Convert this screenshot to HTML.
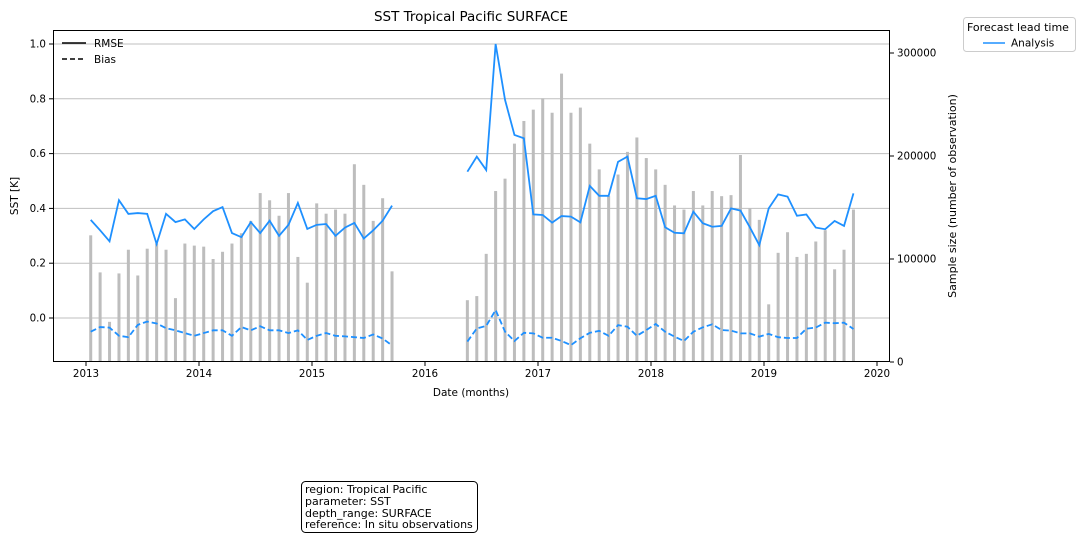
<!DOCTYPE html>
<html><head><meta charset="utf-8"><style>
body{margin:0;background:#fff;width:1084px;height:540px;overflow:hidden;font-family:"Liberation Sans","DejaVu Sans",sans-serif;}
</style></head><body>
<svg id="c" width="1084" height="540" xmlns="http://www.w3.org/2000/svg" font-family="DejaVu Sans, Liberation Sans, sans-serif">
<text x="471" y="21" font-size="13.5" text-anchor="middle">SST Tropical Pacific SURFACE</text>
<g id="grid"></g><g id="bars"></g><g id="lines"></g><g id="axes"></g>
<text x="471" y="396" font-size="10.5" text-anchor="middle">Date (months)</text>
<text transform="translate(18,196) rotate(-90)" font-size="10.5" text-anchor="middle">SST [K]</text>
<text transform="translate(956,196) rotate(-90)" font-size="11" text-anchor="middle">Sample size (number of observation)</text>
<g>
<line x1="62" y1="43" x2="86" y2="43" stroke="#000" stroke-width="1.5"/><text x="94" y="47" font-size="10.5">RMSE</text>
<line x1="62" y1="59" x2="86" y2="59" stroke="#000" stroke-width="1.5" stroke-dasharray="5,3"/><text x="94" y="63" font-size="10.5">Bias</text>
</g>
<g>
<rect x="963.5" y="17.5" width="112" height="34" rx="3" fill="#fff" stroke="#ccc"/>
<text x="967" y="31" font-size="11">Forecast lead time</text>
<line x1="983" y1="43" x2="1005" y2="43" stroke="#1e90ff" stroke-width="1.5"/><text x="1011" y="46.5" font-size="10.5">Analysis</text>
</g>
<g>
<rect x="301.5" y="481.5" width="176" height="51" rx="4" fill="#fff" stroke="#000"/>
<text font-size="11"><tspan x="305" y="493">region: Tropical Pacific</tspan><tspan x="305" y="505">parameter: SST</tspan><tspan x="305" y="517">depth_range: SURFACE</tspan><tspan x="305" y="528">reference: In situ observations</tspan></text>
</g>
</svg>
<script>
const seg1Start=[2013,1];
const seg1Rmse=[0.358,0.32,0.28,0.43,0.38,0.383,0.38,0.27,0.38,0.35,0.36,0.325,0.36,0.39,0.405,0.31,0.295,0.35,0.31,0.355,0.30,0.34,0.42,0.325,0.34,0.343,0.30,0.33,0.347,0.29,0.32,0.355,0.41];
const seg1Bias=[-0.05,-0.033,-0.035,-0.065,-0.07,-0.025,-0.013,-0.02,-0.037,-0.045,-0.055,-0.065,-0.055,-0.045,-0.045,-0.065,-0.033,-0.045,-0.03,-0.045,-0.045,-0.055,-0.045,-0.08,-0.065,-0.055,-0.065,-0.067,-0.07,-0.073,-0.06,-0.075,-0.10];
const seg1Samples=[123000,87000,39000,86000,109000,84000,110000,115000,109000,62000,115000,113000,112000,100000,107000,115000,125000,137000,164000,157000,142000,164000,102000,77000,154000,144000,148000,144000,192000,172000,137000,159000,88000];
const seg2Start=[2016,5];
const seg2Rmse=[0.534,0.589,0.54,1.0,0.796,0.668,0.656,0.378,0.376,0.348,0.372,0.370,0.349,0.482,0.446,0.446,0.570,0.589,0.437,0.434,0.446,0.331,0.311,0.309,0.388,0.346,0.333,0.336,0.400,0.392,0.331,0.266,0.400,0.451,0.443,0.373,0.378,0.330,0.324,0.354,0.336,0.455];
const seg2Bias=[-0.086,-0.038,-0.029,0.029,-0.05,-0.084,-0.054,-0.056,-0.072,-0.072,-0.084,-0.099,-0.074,-0.054,-0.047,-0.065,-0.026,-0.032,-0.065,-0.044,-0.022,-0.05,-0.068,-0.084,-0.05,-0.034,-0.023,-0.044,-0.046,-0.056,-0.056,-0.068,-0.058,-0.07,-0.073,-0.073,-0.039,-0.035,-0.017,-0.019,-0.017,-0.04];
const seg2Samples=[60000,64000,105000,166000,178000,212000,234000,245000,256000,242000,280000,242000,247000,212000,187000,161000,182000,204000,218000,198000,187000,172000,152000,148000,166000,152000,166000,161000,162000,201000,149000,138000,56000,106000,126000,102000,105000,117000,128000,90000,109000,148000];
const xTicks=[2013,2014,2015,2016,2017,2018,2019,2020];
const yTicks=[0.0,0.2,0.4,0.6,0.8,1.0];
const y2Ticks=[0,100000,200000,300000];

const L=53,R=890,T=30,B=362;
const NS='http://www.w3.org/2000/svg';
function xs(yr){return 86+(yr-2013)*113;}
function xm(y,m){return xs(y+(m-0.5)/12);}
function ys(v){return 318-v*274;}
function y2(v){return 362-v/100000*103;}
function mk(tag,attrs,parent){const e=document.createElementNS(NS,tag);for(const k in attrs)e.setAttribute(k,attrs[k]);parent.appendChild(e);return e;}
const grid=document.getElementById('grid'),bars=document.getElementById('bars'),lines=document.getElementById('lines'),axes=document.getElementById('axes');
yTicks.forEach(v=>{const g=mk('line',{x1:L,x2:R,y1:ys(v),y2:ys(v),stroke:'#bfbfbf','stroke-width':1},grid);

});
function series(start,rmse,bias,samp,id){
  const pts=i=>{let m=start[1]-1+i;return xm(start[0]+Math.floor(m/12),m%12+1);};
  samp.forEach((s,i)=>{const b=mk('rect',{x:pts(i)-1.5,y:y2(s),width:3,height:362-y2(s),fill:'#bdbdbd'},bars);
  
  });
  const r=mk('polyline',{points:rmse.map((v,i)=>pts(i)+','+ys(v)).join(' '),fill:'none',stroke:'#1e90ff','stroke-width':1.8},lines);
  
  
  const d=mk('polyline',{points:bias.map((v,i)=>pts(i)+','+ys(v)).join(' '),fill:'none',stroke:'#1e90ff','stroke-width':1.8,'stroke-dasharray':'6,3'},lines);
  
  
}
series(seg1Start,seg1Rmse,seg1Bias,seg1Samples,'2013-2015');
series(seg2Start,seg2Rmse,seg2Bias,seg2Samples,'2016-2019');
const fr=mk('rect',{x:L+0.5,y:T+0.5,width:R-L-1,height:B-T-1,fill:'none',stroke:'#000','stroke-width':1},axes);


xTicks.forEach(t=>{const x=xs(t);mk('line',{x1:x,x2:x,y1:B,y2:B+4,stroke:'#000'},axes);
const tx=mk('text',{x:x,y:B+15,'font-size':10.3,'text-anchor':'middle'},axes);tx.textContent=t;

});
yTicks.forEach(t=>{const y=ys(t);mk('line',{x1:L-4,x2:L,y1:y,y2:y,stroke:'#000'},axes);
const tx=mk('text',{x:L-7,y:y+3.5,'font-size':10.3,'text-anchor':'end'},axes);tx.textContent=t.toFixed(1);

});
y2Ticks.forEach(t=>{const y=y2(t);mk('line',{x1:R,x2:R+4,y1:y,y2:y,stroke:'#000'},axes);
const tx=mk('text',{x:R+7,y:y+3.5,'font-size':10.3},axes);tx.textContent=t;

});
</script>
</body></html>
